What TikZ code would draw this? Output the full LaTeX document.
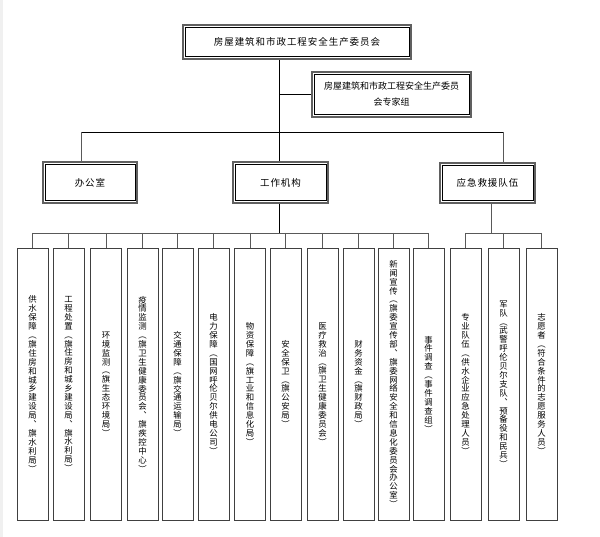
\documentclass[tikz,border=0pt]{standalone}
\usepackage{fontspec}
\newfontfamily\cjk{Noto Sans CJK SC}
\newfontfamily\cjkls[LetterSpace=10]{Noto Sans CJK SC}
\makeatletter
\def\vtend{\vtend}
\def\vt#1{\vtA#1\vtend}
\def\vtA#1{#1\vtB}
\def\vtB#1{\ifx#1\vtend\else\\#1\expandafter\vtB\fi}
\makeatother
\begin{document}
\begin{tikzpicture}[x=1pt,y=-1pt,
  dbl/.style={draw=gray!75!black, line width=1.4pt, fill=white, inner sep=0pt,
    path picture={\draw[black, line width=0.6pt]
      ([shift={(2.2pt,-2.2pt)}]path picture bounding box.north west) rectangle
      ([shift={(-2.2pt,2.2pt)}]path picture bounding box.south east);}},
  topbox/.style={dbl, font=\cjkls\fontsize{9.5}{11}\selectfont},
  expbox/.style={dbl, font=\cjk\fontsize{9}{16}\selectfont, align=center},
  leaf/.style={draw=black!75, line width=0.8pt, minimum width=31pt, minimum height=272pt,
    inner sep=0pt, align=center, font=\cjk\fontsize{8.4}{8.9}\selectfont},
  conn/.style={line width=0.6pt, black},
  gconn/.style={line width=0.7pt, gray!70!black}]
\useasboundingbox (0,0) rectangle (600,537);
\fill[gray!12] (0,0) rectangle (2.5,537);

\node[topbox, minimum width=228pt, minimum height=34pt] (top) at (297,42) {房屋建筑和市政工程安全生产委员会};
\node[expbox, minimum width=159pt, minimum height=45pt] (expert) at (391.5,94.5) {房屋建筑和市政工程安全生产委员\\会专家组};
\node[topbox, minimum width=94pt, minimum height=41pt] (office) at (90,182.5) {办公室};
\node[topbox, minimum width=95pt, minimum height=41pt] (work) at (280.5,182.5) {工作机构};
\node[topbox, minimum width=95pt, minimum height=40pt] (emerg) at (487.5,183) {应急救援队伍};

\foreach \x/\t [count=\i] in {
  32.5/{供水保障︵旗住房和城乡建设局︑旗水利局︶},
  68.5/{工程处置︵旗住房和城乡建设局︑旗水利局︶},
  106/{环境监测︵旗生态环境局︶},
  142.5/{疫情监测︵旗卫生健康委员会︑旗疾控中心︶},
  177.5/{交通保障︵旗交通运输局︶},
  213.5/{电力保障︵国网呼伦贝尔供电公司︶},
  250/{物资保障︵旗工业和信息化局︶},
  285.5/{安全保卫︵旗公安局︶},
  322.5/{医疗救治︵旗卫生健康委员会︶},
  358.5/{财务资金︵旗财政局︶},
  393.5/{新闻宣传︵旗委宣传部︑旗委网络安全和信息化委员会办公室︶},
  428.5/{事件调查︵事件调查组︶}}
  \node[leaf] (w\i) at (\x,384) {\expandafter\vt\expandafter{\t}};

\foreach \x/\t [count=\i] in {
  465.5/{专业队伍︵供水企业应急处理人员︶},
  503.5/{军队︵武警呼伦贝尔支队︑预备役和民兵︶},
  541.5/{志愿者︵符合条件的志愿服务人员︶}}
  \node[leaf] (e\i) at (\x,384) {\expandafter\vt\expandafter{\t}};

\coordinate (tx) at (279,0);
\coordinate (hl) at (81,132);
\coordinate (hr) at (503,132);
\coordinate (wb) at (279,233);
\coordinate (eb) at (491.5,233);

\draw[conn] (tx |- top.south) -- (tx |- work.north);
\draw[conn] (tx |- expert.west) -- (expert.west);
\draw[conn] (hl) -- (hr);
\draw[gconn] (hl) -- (hl |- office.north);
\draw[gconn] (hr) -- (hr |- emerg.north);
\draw[conn] (work.south -| wb) -- (wb);
\draw[gconn] (w1.north |- wb) -- (w12.north |- wb);
\foreach \i in {1,...,12} \draw[gconn] (w\i.north |- wb) -- (w\i.north);
\draw[gconn] (eb |- emerg.south) -- (eb);
\draw[gconn] (e1.north |- eb) -- (e3.north |- eb);
\foreach \i in {1,2,3} \draw[gconn] (e\i.north |- eb) -- (e\i.north);
\end{tikzpicture}
\end{document}
